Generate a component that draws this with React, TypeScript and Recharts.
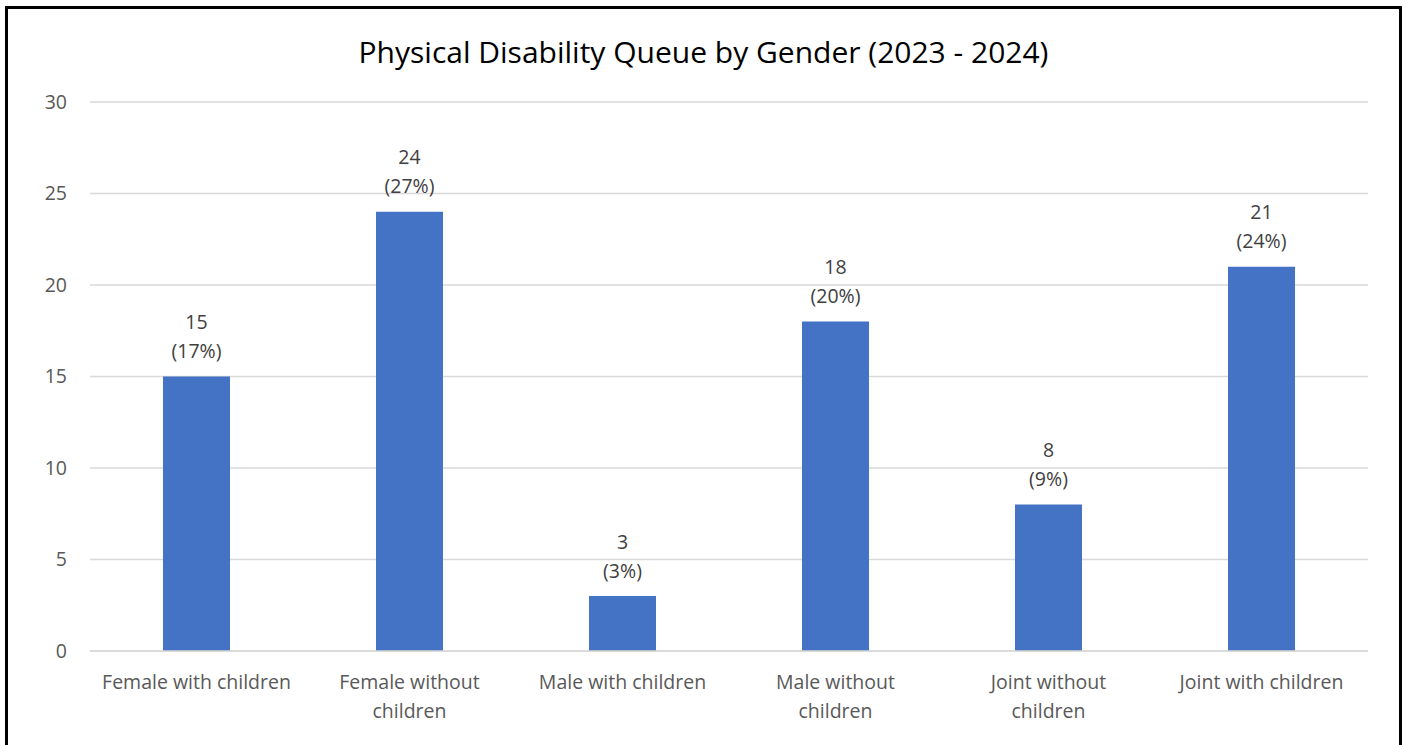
import { BarChart, Bar, XAxis, YAxis, CartesianGrid, LabelList } from "recharts";

const categories = [
  "Female with children",
  "Female without children",
  "Male with children",
  "Male without children",
  "Joint without children",
  "Joint with children",
];
const queueCounts = [15, 24, 3, 18, 8, 21];
const sharePercents = [17, 27, 3, 20, 9, 24];
const yTicks = [0, 5, 10, 15, 20, 25, 30];

const data = categories.map((name, i) => ({
  name,
  value: queueCounts[i],
  pct: sharePercents[i],
}));

const FONT = "'Open Sans', 'Noto Sans', sans-serif";
const TEXT = "#595959";

// break long labels before the last word, like the original
function splitLabel(label: string): string[] {
  if (label.length <= 20) return [label];
  const cut = label.lastIndexOf(" ");
  return [label.slice(0, cut), label.slice(cut + 1)];
}

function CategoryTick(props: any) {
  const { x, y, payload } = props;
  const lines = splitLabel(String(payload.value));
  return (
    <g transform={`translate(${x},${y})`}>
      {lines.map((line, i) => (
        <text
          key={i}
          x={0}
          y={22 + i * 29}
          textAnchor="middle"
          dominantBaseline="central"
          fill={TEXT}
          fontSize={19.5}
          fontFamily={FONT}
        >
          {line}
        </text>
      ))}
    </g>
  );
}

function ValueLabel(props: any) {
  const { x, y, width, index } = props;
  const cx = x + width / 2;
  return (
    <g>
      <text
        x={cx}
        y={y - 55}
        textAnchor="middle"
        dominantBaseline="central"
        fill="#404040"
        fontSize={19.5}
        fontFamily={FONT}
      >
        {queueCounts[index]}
      </text>
      <text
        x={cx}
        y={y - 26}
        textAnchor="middle"
        dominantBaseline="central"
        fill="#404040"
        fontSize={19.5}
        fontFamily={FONT}
      >
        {`(${sharePercents[index]}%)`}
      </text>
    </g>
  );
}

export default function App() {
  return (
    <div
      style={{
        position: "fixed",
        left: 0,
        top: 0,
        width: 1413,
        height: 745,
        overflow: "hidden",
        background: "#fff",
      }}
    >
      <div
        style={{
          position: "absolute",
          left: 5,
          top: 6,
          width: 1397,
          height: 760,
          border: "3px solid #000",
          boxSizing: "border-box",
        }}
      >
        <div
          style={{
            position: "absolute",
            top: 25,
            left: 0,
            width: "100%",
            textAlign: "center",
            fontFamily: FONT,
            fontSize: 30,
            lineHeight: "36px",
            color: "#000",
          }}
        >
          Physical Disability Queue by Gender (2023 - 2024)
        </div>
        <BarChart
          width={1391}
          height={754}
          data={data}
          margin={{ top: 93, right: 31, bottom: 52, left: 0 }}
        >
          <CartesianGrid vertical={false} stroke="#d9d9d9" strokeWidth={1.5} />
          <XAxis
            dataKey="name"
            axisLine={{ stroke: "#d9d9d9", strokeWidth: 1.5 }}
            tickLine={false}
            height={60}
            interval={0}
            tick={<CategoryTick />}
          />
          <YAxis
            domain={[0, 30]}
            ticks={yTicks}
            width={82}
            axisLine={false}
            tickLine={false}
            tickMargin={17}
            tick={{ fill: TEXT, fontSize: 19.5, fontFamily: FONT }}
          />
          <Bar dataKey="value" fill="#4472C4" barSize={67} isAnimationActive={false}>
            <LabelList dataKey="value" content={<ValueLabel />} />
          </Bar>
        </BarChart>
      </div>
    </div>
  );
}
